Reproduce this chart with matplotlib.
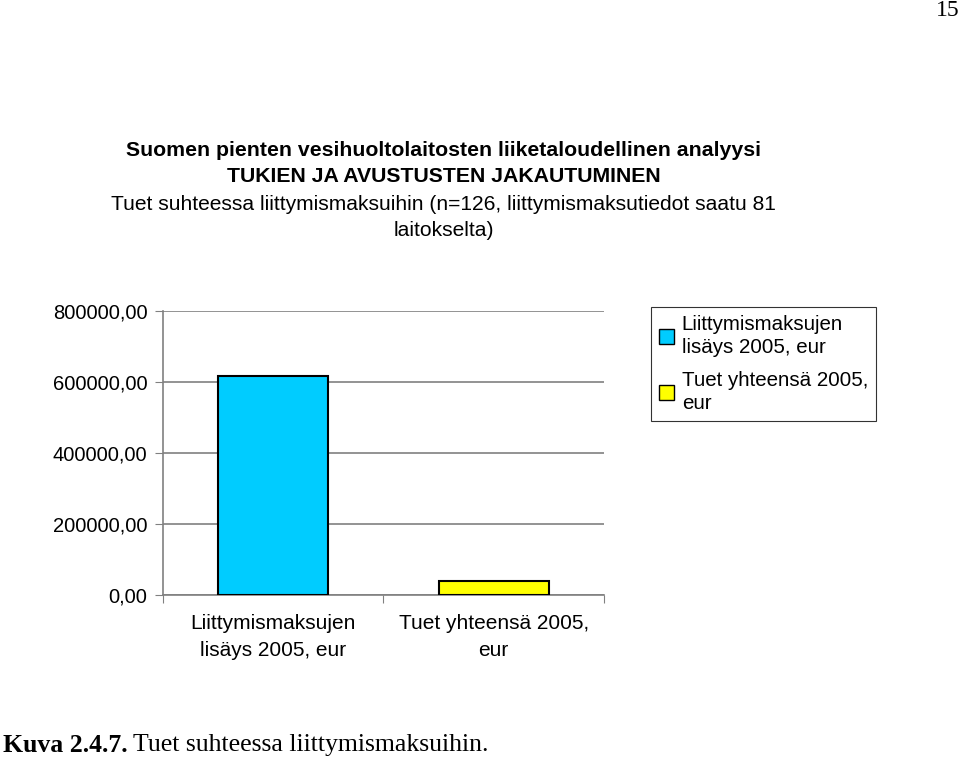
import matplotlib.pyplot as plt
from matplotlib.patches import Patch

# Data
categories = ["Liittymismaksujen\nlisäys 2005, eur", "Tuet yhteensä 2005,\neur"]
values = [615000, 40000]
bar_colors = ["#00ccff", "#ffff00"]
y_ticks = [0, 200000, 400000, 600000, 800000]
y_tick_labels = ["0,00", "200000,00", "400000,00", "600000,00", "800000,00"]

plt.rcParams['font.family'] = ['Liberation Sans', 'DejaVu Sans']

fig = plt.figure(figsize=(9.6, 7.6), dpi=100)
ax = fig.add_axes([0.1695, 0.2171, 0.4597, 0.3741])

x = list(range(len(categories)))
ax.bar(x, values, width=0.5, color=bar_colors, edgecolor="#000000", linewidth=1.5, zorder=3)

ax.set_xlim(-0.5, 1.5)
ax.set_ylim(0, 800000)
ax.set_yticks(y_ticks)
ax.set_yticklabels(y_tick_labels, fontsize=14.5)
ax.yaxis.grid(True, color="#808080", linewidth=1.2, zorder=0)

# category labels between boundary ticks
ax.set_xticks([-0.5, 0.5, 1.5])
ax.set_xticklabels([])
ax.set_xticks(x, minor=True)
ax.set_xticklabels(categories, minor=True, fontsize=15, linespacing=1.5)
ax.tick_params(axis='x', which='minor', length=0, pad=14)
ax.tick_params(axis='x', which='major', length=6, color="#808080", direction='out')
ax.tick_params(axis='y', length=6, color="#808080", pad=5)

for side in ["top", "right"]:
    ax.spines[side].set_visible(False)
for side in ["left", "bottom"]:
    ax.spines[side].set_color("#808080")
    ax.spines[side].set_linewidth(1.2)

# legend
handles = [Patch(facecolor=c, edgecolor="#000000", linewidth=1.0) for c in bar_colors]
leg = fig.legend(handles, categories, loc="upper left", bbox_to_anchor=(651 / 960, 1 - 307 / 760),
                 fontsize=14.8, frameon=True, fancybox=False, handlelength=0.7, handleheight=0.7,
                 handletextpad=0.4, borderpad=0.4, labelspacing=0.7, borderaxespad=0)
leg.get_frame().set_edgecolor("#000000")
leg.get_frame().set_linewidth(0.8)
for t in leg.get_texts():
    t.set_linespacing(1.25)

# titles
fig.text(0.462, 1 - 151 / 760, "Suomen pienten vesihuoltolaitosten liiketaloudellinen analyysi",
         ha="center", va="center", fontsize=15.3, fontweight="bold")
fig.text(0.462, 1 - 177 / 760, "TUKIEN JA AVUSTUSTEN JAKAUTUMINEN",
         ha="center", va="center", fontsize=15.3, fontweight="bold")
fig.text(0.462, 1 - 204 / 760, "Tuet suhteessa liittymismaksuihin (n=126, liittymismaksutiedot saatu 81",
         ha="center", va="center", fontsize=15.1)
fig.text(0.462, 1 - 230 / 760, "laitokselta)", ha="center", va="center", fontsize=15.1)

# page number and caption
fig.text(1.0, 1 - 11 / 760, "15", ha="right", va="center", fontsize=17, family="Liberation Serif")
cap = fig.text(0.003, 1 - 745 / 760, "Kuva 2.4.7.", ha="left", va="center", fontsize=18.5,
               family="Liberation Serif", fontweight="bold")
ax.annotate("Tuet suhteessa liittymismaksuihin.", xy=(1, 0), xycoords=cap,
            xytext=(4, 0), textcoords="offset points", ha="left", va="bottom",
            fontsize=18.5, family="Liberation Serif", annotation_clip=False)

fig.savefig("out.png", dpi=100)
